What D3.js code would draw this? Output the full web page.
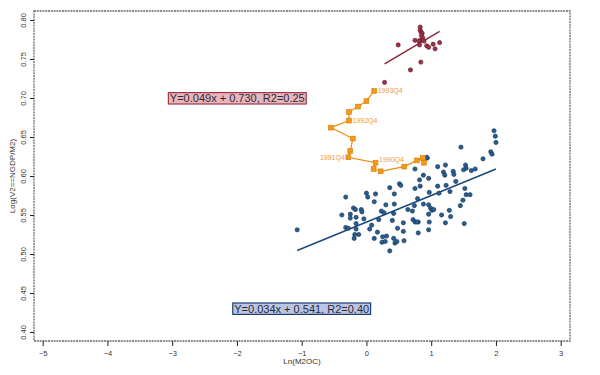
<!DOCTYPE html>
<html><head><meta charset="utf-8">
<script src="https://cdn.jsdelivr.net/npm/d3@7"></script>
<style>body{margin:0;background:#fff}svg{display:block}text{font-family:"Liberation Sans",Arial,sans-serif}</style>
</head><body><svg id="c" width="600" height="375"></svg>
<script>
const xTicks = [-5,-4,-3,-2,-1,0,1,2,3];
const yTicks = [0.40,0.45,0.50,0.55,0.60,0.65,0.70,0.75,0.80];
const xLabel = "Ln(M2OC)";
const yLabel = "Log(V2==NGDP/M2)";

// blue series (x, y)
const blueX = [1.46,2.00,1.97,1.99,0.94,1.92,1.94,1.80,1.10,1.22,1.19,1.21,1.34,1.35,1.53,1.54,1.50,1.62,1.68,0.75,0.88,0.82,0.96,1.10,1.23,1.38,1.29,1.52,1.54,1.60,1.49,1.45,0.75,0.83,0.97,1.12,0.79,0.88,0.96,0.99,1.01,1.04,1.16,1.28,1.30,1.22,1.51,0.96,0.97,0.96,0.80,0.80,0.72,0.75,0.78,0.64,0.71,0.74,0.51,0.53,0.36,0.43,0.43,0.30,0.23,0.27,0.42,0.19,0.40,0.48,0.57,0.57,0.00,0.02,0.14,0.12,-0.32,-0.38,-0.25,-0.25,-0.20,-0.17,-0.16,-0.08,-0.07,-0.04,0.08,0.05,-0.16,-0.16,-0.32,-0.28,-0.12,-0.18,-0.19,0.17,0.12,0.25,0.31,0.24,0.29,0.42,0.44,0.47,0.36,0.58,-1.07,0.93];
const blueY = [0.637,0.643,0.658,0.651,0.623,0.631,0.628,0.622,0.612,0.614,0.605,0.601,0.606,0.602,0.614,0.610,0.608,0.607,0.609,0.609,0.601,0.595,0.597,0.587,0.588,0.593,0.580,0.584,0.576,0.576,0.569,0.562,0.584,0.587,0.579,0.578,0.571,0.564,0.563,0.559,0.556,0.557,0.550,0.556,0.548,0.540,0.539,0.551,0.541,0.531,0.527,0.541,0.544,0.541,0.541,0.557,0.555,0.562,0.590,0.588,0.585,0.577,0.564,0.563,0.555,0.553,0.552,0.544,0.543,0.533,0.540,0.529,0.578,0.573,0.577,0.567,0.573,0.550,0.551,0.546,0.559,0.557,0.547,0.557,0.554,0.545,0.537,0.532,0.539,0.532,0.534,0.533,0.525,0.525,0.520,0.528,0.520,0.522,0.523,0.515,0.516,0.520,0.514,0.516,0.504,0.517,0.531,0.624];

// red series
const redX = [0.83,0.83,0.84,0.86,0.85,0.87,0.83,0.75,0.81,0.89,0.82,0.93,0.96,1.03,1.13,1.06,0.49,0.84,0.68,0.28];
const redY = [0.791,0.787,0.785,0.783,0.780,0.777,0.774,0.774,0.773,0.773,0.768,0.767,0.765,0.769,0.771,0.763,0.768,0.746,0.736,0.720];

// orange path (in drawing order)
const orangeX = [0.89,0.87,0.78,0.585,0.22,0.11,0.14,-0.28,-0.25,-0.21,-0.55,-0.27,-0.27,-0.13,0.00,0.12];
const orangeY = [0.617,0.623,0.620,0.612,0.606,0.609,0.617,0.624,0.632,0.648,0.662,0.671,0.682,0.689,0.696,0.709];
const orangeLab = ["","","","","","","1990Q4","1991Q4","","","","1992Q4","","","","1993Q4"];

const blueFit = {a:0.034, b:0.541, r2:"0.40", text:"Y=0.034x + 0.541, R2=0.40"};
const redFit = {a:0.049, b:0.730, r2:"0.25", text:"Y=0.049x + 0.730, R2=0.25"};

const svg = d3.select("#c");
const x = d3.scaleLinear().domain([-5,3]).range([42.7,560.7]);
const y = d3.scaleLinear().domain([0.40,0.80]).range([332,20]);
const frame = {l:34,r:570,t:11,b:341};

// frame
svg.append("rect").attr("x",frame.l).attr("y",frame.t).attr("width",frame.r-frame.l).attr("height",frame.b-frame.t)
  .attr("fill","none").attr("stroke","#6a6a6a").attr("stroke-width",1.3).attr("stroke-dasharray","2,0.8");

// x axis
const xa = svg.append("g").attr("transform",`translate(0,${frame.b})`)
  .call(d3.axisBottom(x).tickValues(xTicks).tickSize(5).tickSizeOuter(0).tickFormat(d=>d<0?"\u2212"+(-d):d));
xa.select(".domain").remove();
xa.selectAll("line").attr("stroke","#222");
xa.selectAll("text").attr("font-size",7.5).attr("fill","#333").attr("dy","0.9em");

// y axis
const ya = svg.append("g").attr("transform",`translate(${frame.l},0)`)
  .call(d3.axisLeft(y).tickValues(yTicks).tickSize(4).tickSizeOuter(0).tickFormat(d3.format(".2f")));
ya.select(".domain").remove();
ya.selectAll("line").attr("stroke","#222");
ya.selectAll("text").attr("font-size",7.5).attr("fill","#333")
  .attr("x",0).attr("dy",0).attr("text-anchor","middle")
  .attr("transform",function(){return "translate(-8,0) rotate(-90)";});

svg.append("text").attr("x",(frame.l+frame.r)/2).attr("y",364).attr("text-anchor","middle")
  .attr("font-size",8).attr("fill","#333").text(xLabel);
svg.append("text").attr("transform",`translate(15,${(frame.t+frame.b)/2}) rotate(-90)`).attr("text-anchor","middle")
  .attr("font-size",8).attr("fill","#333").text(yLabel);

// blue fit line
const bx = d3.extent(blueX);
svg.append("line").attr("x1",x(bx[0])).attr("y1",y(blueFit.a*bx[0]+blueFit.b))
  .attr("x2",x(bx[1])).attr("y2",y(blueFit.a*bx[1]+blueFit.b))
  .attr("stroke","#1d4a7c").attr("stroke-width",1.6);
// red fit line
const rx = d3.extent(redX);
svg.append("line").attr("x1",x(rx[0])).attr("y1",y(redFit.a*rx[0]+redFit.b))
  .attr("x2",x(rx[1])).attr("y2",y(redFit.a*rx[1]+redFit.b))
  .attr("stroke","#8c2a3c").attr("stroke-width",1.6);

// blue points
svg.append("g").selectAll("circle").data(d3.range(blueX.length)).join("circle")
  .attr("cx",i=>x(blueX[i])).attr("cy",i=>y(blueY[i])).attr("r",2.1)
  .attr("fill","#2a5f92").attr("stroke","#15365c").attr("stroke-width",0.7);
// red points
svg.append("g").selectAll("circle").data(d3.range(redX.length)).join("circle")
  .attr("cx",i=>x(redX[i])).attr("cy",i=>y(redY[i])).attr("r",2.1)
  .attr("fill","#9a3346").attr("stroke","#6e1f2e").attr("stroke-width",0.7);

// orange path
const oPts = d3.range(orangeX.length).map(i=>[x(orangeX[i]),y(orangeY[i])]);
svg.append("path").attr("d",d3.line()(oPts)).attr("fill","none").attr("stroke","#ee8c12").attr("stroke-width",1.2);
svg.append("g").selectAll("rect").data(oPts).join("rect")
  .attr("x",d=>d[0]-2.4).attr("y",d=>d[1]-2.4).attr("width",4.8).attr("height",4.8)
  .attr("fill","#f39a1a").attr("stroke","#d97a00").attr("stroke-width",0.6);
svg.append("g").selectAll("text").data(d3.range(orangeX.length).filter(i=>orangeLab[i])).join("text")
  .attr("x",i=>orangeLab[i]==="1991Q4"? oPts[i][0]-3.5 : oPts[i][0]+3.5)
  .attr("y",i=>orangeLab[i]==="1990Q4"? oPts[i][1]-0.5 : oPts[i][1]+2.5)
  .attr("text-anchor",i=>orangeLab[i]==="1991Q4"?"end":"start")
  .attr("font-size",7).attr("fill","#ef9a3a").text(i=>orangeLab[i]);

// annotation boxes
function box(cx, cy, txt, fill, stroke){
  const t = svg.append("text").attr("x",cx).attr("y",cy+4).attr("text-anchor","middle")
    .attr("font-size",11).attr("fill","#2b2b3a").text(txt);
  const bb = t.node().getBBox();
  svg.insert("rect", function(){return t.node();})
    .attr("x",bb.x-1.5).attr("y",cy-5.7).attr("width",bb.width+3).attr("height",11.4)
    .attr("fill",fill).attr("stroke",stroke).attr("stroke-width",1.2);
}
box(237.3, 98.3, redFit.text, "#e7b5ba", "#a33548");
box(301.7, 308.7, blueFit.text, "#b9c5e3", "#1f3d74");
</script></body></html>
